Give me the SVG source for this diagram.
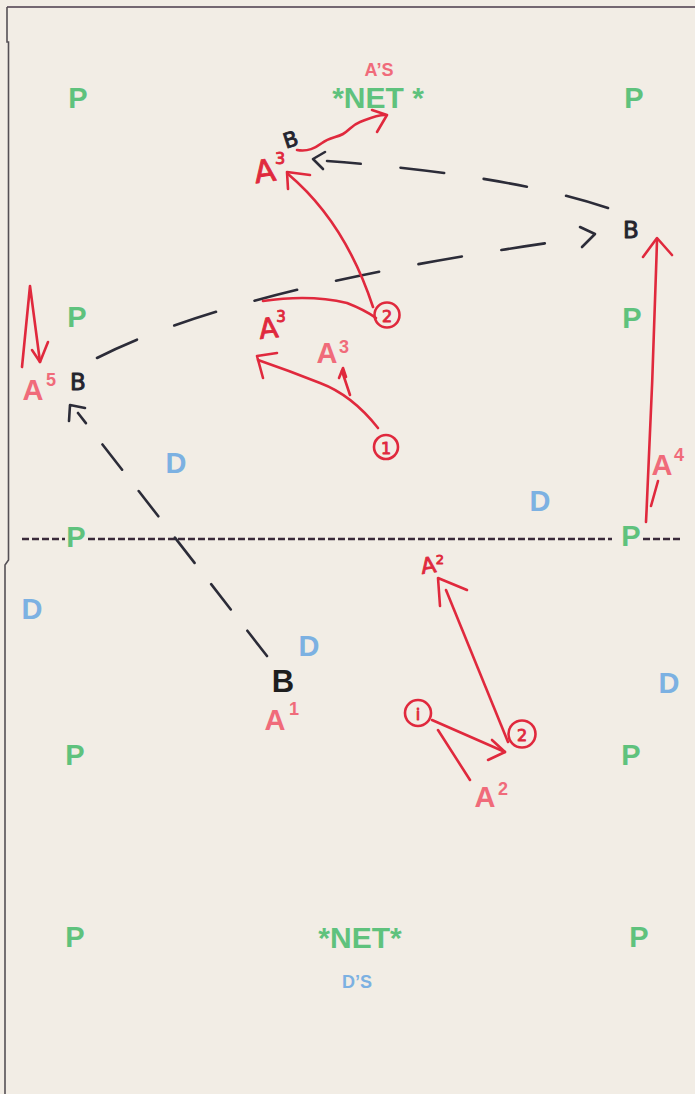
<svg xmlns="http://www.w3.org/2000/svg" width="695" height="1094" viewBox="0 0 695 1094">
  <style>
    .typed { font-family: "Liberation Sans", Arial, sans-serif; font-weight: bold; text-anchor: middle; }
    .pos { fill: #5fc27d; font-size: 29px; }
    .net { fill: #5fc27d; font-size: 30px; }
    .def { fill: #7cb1e2; font-size: 29px; }
    .att { fill: #f06b7a; font-size: 29px; }
    .sup { fill: #f06b7a; font-size: 18px; }
    .cap { font-size: 18px; }
    .hand { font-family: "DejaVu Sans", sans-serif; text-anchor: middle; stroke-width: 0.9; stroke-linejoin: round; }
    .hred { fill: #e0293d; stroke: #e0293d; }
    .hink { fill: #24242e; stroke: #24242e; }
    .red { fill: none; stroke: #e0293d; stroke-width: 2.6; stroke-linecap: round; stroke-linejoin: round; }
    .ink { fill: none; stroke: #2c2c38; stroke-width: 2.6; stroke-linecap: round; stroke-linejoin: round; }
    .dash-arc { stroke-dasharray: 44 40; }
    .dash-diag { stroke-dasharray: 32 27; }
    .midline { fill: none; stroke: #3a2a3a; stroke-width: 2.4; stroke-dasharray: 7 3; }
  </style>

  <!-- paper -->
  <rect x="0" y="0" width="695" height="1094" fill="#f2ede5"/>
  <polyline points="7,7 695,7" fill="none" stroke="#4a3a4a" stroke-width="1.6"/>
  <polyline points="7,7 7,42 8.5,42 8.5,560 5,565 5,1094" fill="none" stroke="#555055" stroke-width="1.6"/>

  <!-- centre line -->
  <g id="midline">
    <line class="midline" x1="22" y1="539" x2="65" y2="539"/>
    <line class="midline" x1="88" y1="539" x2="612" y2="539"/>
    <line class="midline" x1="643" y1="539" x2="683" y2="539"/>
  </g>

  <!-- perimeter players -->
  <g id="perimeter">
    <text class="typed pos" x="78" y="108">P</text>
    <text class="typed pos" x="634" y="108">P</text>
    <text class="typed pos" x="77" y="327">P</text>
    <text class="typed pos" x="632" y="328">P</text>
    <text class="typed pos" x="76" y="547">P</text>
    <text class="typed pos" x="631" y="546">P</text>
    <text class="typed pos" x="75" y="765">P</text>
    <text class="typed pos" x="631" y="765">P</text>
    <text class="typed pos" x="75" y="947">P</text>
    <text class="typed pos" x="639" y="947">P</text>
  </g>

  <!-- nets -->
  <g id="net-top">
    <text class="typed cap" x="379" y="76" fill="#f06b7a">A’S</text>
    <text class="typed net" x="378" y="108">*NET *</text>
  </g>
  <g id="net-bottom">
    <text class="typed net" x="360" y="948">*NET*</text>
    <text class="typed cap" x="357" y="988" fill="#7cb1e2">D’S</text>
  </g>

  <!-- defenders -->
  <g id="defenders">
    <text class="typed def" x="176" y="473">D</text>
    <text class="typed def" x="540" y="511">D</text>
    <text class="typed def" x="32" y="619">D</text>
    <text class="typed def" x="309" y="656">D</text>
    <text class="typed def" x="669" y="693">D</text>
  </g>

  <!-- attackers -->
  <g id="a1">
    <text class="typed" x="283" y="692" font-size="31" fill="#1e1e1e">B</text>
    <text class="typed att" x="275" y="730" font-size="30">A</text>
    <text class="typed sup" x="294" y="715">1</text>
  </g>
  <g id="a2">
    <text class="typed att" x="485" y="807">A</text>
    <text class="typed sup" x="503" y="795">2</text>
  </g>
  <g id="a4">
    <text class="typed att" x="662" y="475">A</text>
    <text class="typed sup" x="679" y="461">4</text>
  </g>
  <g id="a5">
    <text class="typed att" x="33" y="400">A</text>
    <text class="typed sup" x="51" y="386">5</text>
    <text class="hand hink" x="78" y="390" font-size="23">B</text>
  </g>
  <g id="a3-mid">
    <text class="typed att" x="327" y="363" font-size="28">A</text>
    <text class="typed sup" x="344" y="353" font-size="17">3</text>
  </g>

  <!-- handwritten marks -->
  <g id="a3-top">
    <text class="hand hred" x="264" y="182" font-size="31" transform="rotate(-8 264 166)">A</text>
    <text class="hand hred" x="280" y="164" font-size="16">3</text>
    <text class="hand hink" x="290" y="147" font-size="21" transform="rotate(-18 290 138)">B</text>
  </g>
  <g id="a3-left">
    <text class="hand hred" x="268" y="338" font-size="28" transform="rotate(-6 268 324)">A</text>
    <text class="hand hred" x="281" y="322" font-size="15">3</text>
  </g>
  <g id="a2-top">
    <text class="hand hred" x="428" y="573" font-size="22" transform="rotate(-8 428 563)">A</text>
    <text class="hand hred" x="440" y="564" font-size="13">2</text>
  </g>
  <g id="b-right">
    <text class="hand hink" x="631" y="238" font-size="23">B</text>
  </g>

  <!-- numbered spots -->
  <g id="spot-2-top">
    <circle class="red" cx="387" cy="315" r="12.5"/>
    <text class="hand hred" x="387" y="322" font-size="16">2</text>
  </g>
  <g id="spot-1-top">
    <circle class="red" cx="386" cy="447" r="12"/>
    <text class="hand hred" x="386" y="454" font-size="16">1</text>
  </g>
  <g id="spot-1-bottom">
    <circle class="red" cx="418" cy="713" r="13"/>
    <text class="hand hred" x="418" y="720" font-size="16">i</text>
  </g>
  <g id="spot-2-bottom">
    <circle class="red" cx="522" cy="734" r="13.5"/>
    <text class="hand hred" x="522" y="741" font-size="16">2</text>
  </g>

  <!-- connectors -->
  <g id="connectors">
    <!-- ball movement (dashed) -->
    <path class="ink dash-diag" d="M267,656 L78,413"/>
    <polyline class="ink" points="69,421 70,405 85,408"/>

    <path class="ink dash-arc" d="M97,358 Q240,285 583,238"/>
    <polyline class="ink" points="580,227 595,234 582,247"/>

    <path class="ink dash-arc" d="M608,208 Q510,175 327,161"/>
    <polyline class="ink" points="325,152 313,159 323,169"/>

    <!-- player runs (red) -->
    <path class="red" d="M297,150 C308,152 315,148 322,143 C330,137 336,138 343,134 C350,130 352,125 360,122 C368,119 376,115 385,115"/>
    <polyline class="red" points="372,110 387,115 377,132"/>

    <path class="red" d="M373,307 Q345,222 288,174"/>
    <polyline class="red" points="310,175 287,172 288,189"/>

    <path class="red" d="M263,301 Q310,294 347,303 Q365,310 376,318"/>

    <path class="red" d="M378,428 Q352,395 320,383 Q290,371 258,360"/>
    <polyline class="red" points="263,378 257,356 277,353"/>
    <path class="red" d="M350,395 L342,371"/>
    <polyline class="red" points="339,378 343,368 346,377"/>

    <path class="red" d="M22,367 L30,286 L40,362"/>
    <polyline class="red" points="32,350 40,362 48,342"/>

    <path class="red" d="M646,522 Q653,380 657,240"/>
    <polyline class="red" points="643,257 657,238 672,255"/>
    <path class="red" d="M651,506 L658,481"/>

    <path class="red" d="M432,720 L505,752"/>
    <polyline class="red" points="492,740 505,752 488,760"/>
    <path class="red" d="M438,730 L470,780"/>

    <path class="red" d="M508,742 L446,590"/>
    <polyline class="red" points="440,606 438,578 467,590"/>
  </g>
</svg>
